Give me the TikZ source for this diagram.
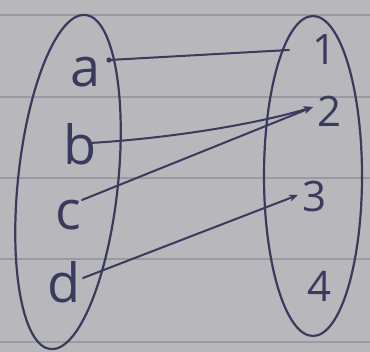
\documentclass[tikz,border=0pt]{standalone}
\usepackage{fontspec}
\setmainfont{Open Sans}
\usetikzlibrary{arrows.meta}
\definecolor{paper}{HTML}{B8B8BC}
\definecolor{rulecol}{HTML}{9A9AA1}
\definecolor{ink}{HTML}{3A3A5C}
\begin{document}
\begin{tikzpicture}[x=1pt,y=1pt,
  inkline/.style={draw=ink, line width=2.2pt},
  conn/.style={draw=ink, line width=2pt, line cap=round},
  arr/.style={conn, -{Stealth[length=9pt,width=7pt]}},
  letter/.style={text=ink, inner sep=0pt, anchor=base, font=\fontsize{54}{60}\selectfont},
  digit/.style={text=ink, inner sep=0pt, anchor=base, font=\fontsize{42}{48}\selectfont}]
\fill[paper] (0,0) rectangle (370,352);
\useasboundingbox (0,0) rectangle (370,352);
\foreach \py in {15,97,178,259,342} \draw[rulecol, line width=1.2pt] (0,352-\py) -- (370,352-\py);
% sets
\draw[inkline, rotate around={-6:(68,170)}] (68,170) ellipse [x radius=50, y radius=168];
\draw[inkline] (313,176) ellipse [x radius=49, y radius=160];
% elements
\node[letter] (a) at (86,265) {a};
\node[letter] (b) at (80,187) {b};
\node[letter] (c) at (68,122) {c};
\node[letter] (d) at (64,49) {d};
\node[digit] (n1) at (325,287) {1};
\node[digit] (n2) at (330,225) {2};
\node[digit] (n3) at (315,140) {3};
\node[digit] (n4) at (320,50) {4};
% connector ends
\coordinate (adot) at (109,292);
\coordinate (aend) at (289,302);
\coordinate (bs) at (90,209);
\coordinate (cs) at (82,152);
\coordinate (ds) at (83,74);
\coordinate (t2) at (313,245);
\coordinate (t3) at (298,157);
\fill[ink] (adot) circle (2.6);
\draw[conn] (adot) -- (aend);
\draw[arr] (bs) .. controls (160,213) and (250,226) .. (t2);
\draw[arr] (cs) -- (t2);
\draw[arr] (ds) -- (t3);
\end{tikzpicture}
\end{document}
